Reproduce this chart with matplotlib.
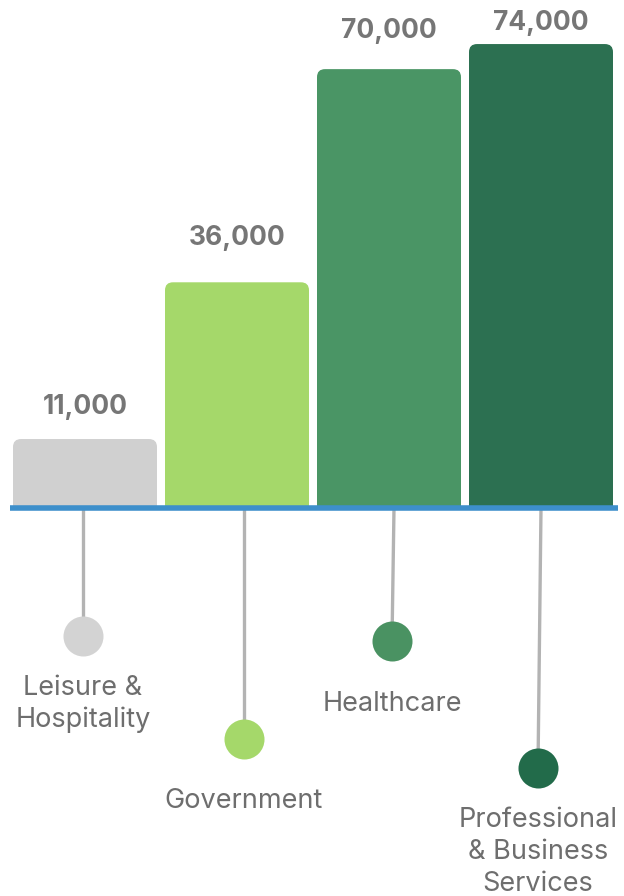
import matplotlib
matplotlib.use("Agg")
import matplotlib.pyplot as plt
from matplotlib.patches import FancyBboxPatch, Rectangle

categories = ["Leisure &\nHospitality", "Government", "Healthcare",
              "Professional\n& Business\nServices"]
values = [11000, 36000, 70000, 74000]
value_labels = ["11,000", "36,000", "70,000", "74,000"]
bar_colors = ["#d0d0d0", "#a5d86a", "#4a9565", "#2c7051"]
dot_colors = ["#d3d3d3", "#a5d86a", "#4a9262", "#226b4a"]

W, H = 624, 896
PX_X = 152.0      # pixels per category step
PX_Y = 1 / 159.5  # pixels per value unit
BASE = 508        # baseline y in pixels from top
X0 = 85           # first bar center, px

# layout (pixels): stem x at top / bottom, dot center y, label center y, value label offset
stem_top_x = [83, 244, 394, 541]
stem_bot_x = [83, 244, 392, 538]
dot_y = [636, 739, 641, 768]
label_y = [704, 801, 704, 852]
value_gap = [32, 44, 38, 21]

fig = plt.figure(figsize=(W / 100, H / 100), dpi=100)
ax = fig.add_axes([0, 0, 1, 1])
ax.set_xlim(-X0 / PX_X, (W - X0) / PX_X)
ax.set_ylim(-(H - BASE) / PX_Y, BASE / PX_Y)
ax.axis("off")


def px_x(p):
    return (p - X0) / PX_X


def px_y(p):
    return (BASE - p) / PX_Y


width = 144 / PX_X
r = 8 / PX_X
aspect = PX_X / PX_Y
for i, (v, c) in enumerate(zip(values, bar_colors)):
    left = i - width / 2
    patch = FancyBboxPatch((left, -3000), width, v + 3000,
                           boxstyle=f"round,pad=0,rounding_size={r}",
                           mutation_aspect=aspect, fc=c, ec="none", zorder=2)
    ax.add_patch(patch)
    patch.set_clip_path(Rectangle((left - 1, 0), width + 2, 200000,
                                  transform=ax.transData))
    ax.text(i, v + value_gap[i] / PX_Y, value_labels[i], ha="center", va="center",
            fontsize=19, fontweight="bold", color="#767676", family="Inter")

for i in range(len(values)):
    ax.plot([px_x(stem_top_x[i]), px_x(stem_bot_x[i])], [0, px_y(dot_y[i])],
            color="#b3b3b3", lw=2.4, zorder=1, solid_capstyle="butt")
    ax.scatter([px_x(stem_bot_x[i])], [px_y(dot_y[i])], s=830, color=dot_colors[i],
               zorder=3, linewidths=0)
    ax.text(px_x(stem_bot_x[i]), px_y(label_y[i]), categories[i], ha="center",
            va="center", fontsize=19.5, color="#6e6e6e", family="Inter",
            linespacing=1.3)

ax.axhline(0, xmin=10 / W, xmax=618 / W, color="#3d8fcb", lw=4, zorder=4,
           solid_capstyle="butt")

fig.savefig("out.png", dpi=100)
